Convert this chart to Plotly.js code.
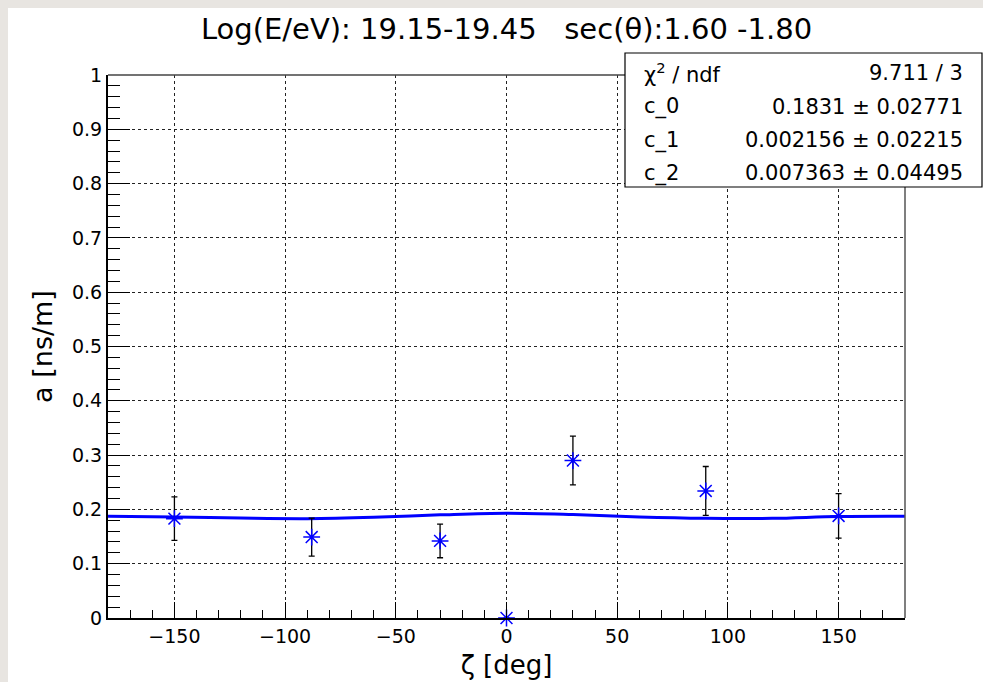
<!DOCTYPE html>
<html>
<head>
<meta charset="utf-8">
<script src="https://cdn.plot.ly/plotly-3.0.1.min.js"></script>
<style>
  html, body { margin:0; padding:0; background:#e8e5e1; width:983px; height:682px; overflow:hidden; }
  #sheet { position:absolute; left:8px; top:8px; width:975px; height:674px; background:#ffffff; }
  #chart { position:absolute; left:0; top:0; width:983px; height:682px; }
</style>
</head>
<body>
<div id="sheet"></div>
<div id="chart"></div>
<script>
// ---- data ----
const zeta   = [-150, -88, -30, 0, 30, 90, 150];
const aVal   = [0.183, 0.149, 0.142, 0.0, 0.290, 0.234, 0.188];
const aErr   = [0.040, 0.035, 0.031, 0.0, 0.045, 0.045, 0.041];

const fitZeta = [-180, -150, -120, -90, -60, -30, 0, 30, 60, 90, 120, 150, 180];
const fitVal  = [0.1875, 0.1860, 0.1840, 0.1830, 0.1855, 0.1900, 0.1930, 0.1905, 0.1860, 0.1835, 0.1835, 0.1870, 0.1875];

const statLabels = ["χ<sup>2</sup> / ndf", "c_0", "c_1", "c_2"];
const statValues = ["9.711 / 3", "0.1831 ± 0.02771", "0.002156 ± 0.02215", "0.007363 ± 0.04495"];

const titleText = "Log(E/eV): 19.15-19.45   sec(θ):1.60 -1.80";
const xTitle = "ζ [deg]";
const yTitle = "a [ns/m]";

// ---- geometry helpers ----
const W = 983, H = 682;
const M = {l:108, r:78, t:75, b:64};
const PW = W - M.l - M.r, PH = H - M.t - M.b;
const px = x => (x - M.l) / PW;
const py = y => (H - M.b - y) / PH;

const FONT = "DejaVu Sans, Liberation Sans, Arial, sans-serif";

const traces = [
  {
    x: fitZeta, y: fitVal, type: 'scatter', mode: 'lines',
    line: {color: '#0000ff', width: 3, shape: 'spline', smoothing: 1},
    hoverinfo: 'skip', showlegend: false
  },
  {
    x: zeta, y: aVal, type: 'scatter', mode: 'markers',
    marker: {symbol: 'asterisk-open', size: 14, color: '#0000ff', line: {color: '#0000ff', width: 1.5}},
    error_y: {type: 'data', array: aErr, visible: true, color: '#000000', thickness: 1.3, width: 3},
    cliponaxis: false, showlegend: false
  }
];

const rowY = [72.7, 107, 140, 173.3];
const annotations = [];
statLabels.forEach((t, i) => {
  annotations.push({xref:'paper', yref:'paper', x: px(642), y: py(rowY[i]), xanchor:'left', yanchor:'middle',
    text: t, showarrow:false, font:{family: FONT, size: 21, color:'#000'}});
});
statValues.forEach((t, i) => {
  annotations.push({xref:'paper', yref:'paper', x: px(965), y: py(rowY[i]), xanchor:'right', yanchor:'middle',
    text: t, showarrow:false, font:{family: FONT, size: 21, color:'#000'}});
});

const layout = {
  width: W, height: H,
  margin: {l: M.l, r: M.r, t: M.t, b: M.b, pad: 0},
  paper_bgcolor: 'rgba(0,0,0,0)',
  plot_bgcolor: '#ffffff',
  showlegend: false,
  title: {text: titleText, x: 0.5, xref: 'paper', y: 1 - 29/H, yref: 'container', yanchor: 'middle',
          font: {family: FONT, size: 29, color: '#000'}},
  xaxis: {
    range: [-180, 180], tick0: 0, dtick: 50,
    ticks: 'inside', ticklen: 16, tickwidth: 1, tickcolor: '#000',
    minor: {dtick: 10, ticks: 'inside', ticklen: 8, tickwidth: 1, tickcolor: '#000', showgrid: false},
    showgrid: true, gridcolor: '#222', griddash: 'dot', gridwidth: 1,
    zeroline: false, showline: true, linecolor: '#000', linewidth: 2,
    tickfont: {family: FONT, size: 19, color: '#000'},
    title: {text: xTitle, font: {family: FONT, size: 26, color: '#000'}, standoff: 10},
    fixedrange: true
  },
  yaxis: {
    range: [0, 1], tick0: 0, dtick: 0.1,
    ticks: 'inside', ticklen: 22, tickwidth: 1, tickcolor: '#000',
    minor: {dtick: 0.02, ticks: 'inside', ticklen: 12, tickwidth: 1, tickcolor: '#000', showgrid: false},
    showgrid: true, gridcolor: '#222', griddash: 'dot', gridwidth: 1,
    zeroline: false, showline: true, linecolor: '#000', linewidth: 2,
    tickfont: {family: FONT, size: 19, color: '#000'},
    title: {text: yTitle, font: {family: FONT, size: 27, color: '#000'}, standoff: 12},
    fixedrange: true
  },
  shapes: [
    {type:'line', xref:'paper', yref:'paper', x0:0, x1:1, y0:1, y1:1, line:{color:'#444', width:1.5}},
    {type:'line', xref:'paper', yref:'paper', x0:1, x1:1, y0:0, y1:1, line:{color:'#555', width:1.5}},
    {type:'rect', xref:'paper', yref:'paper', x0: px(625), x1: px(982), y0: py(187), y1: py(53),
     line:{color:'#000', width:1.2}, fillcolor:'#ffffff', layer:'above'}
  ],
  annotations: annotations
};

Plotly.newPlot('chart', traces, layout, {staticPlot: true, displayModeBar: false});
</script>
</body>
</html>
